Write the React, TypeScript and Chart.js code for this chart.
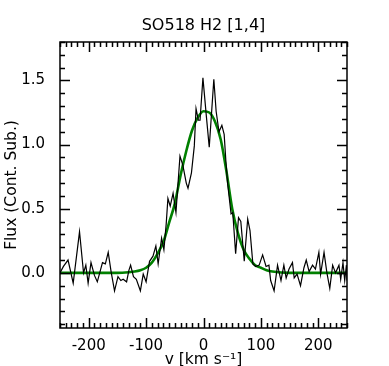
import React, { useEffect, useRef } from 'react';
import { Chart, registerables } from 'chart.js';

Chart.register(...registerables);

const TITLE = 'SO518 H2 [1,4]';
const X_LABEL = 'v [km s⁻¹]';
const Y_LABEL = 'Flux (Cont. Sub.)';

const specVel = [
  -250, -244, -236, -227, -216, -209, -205, -201, -196, -190,
  -185, -176, -171, -166, -161, -155, -149, -144, -140, -134,
  -130, -127, -122, -117, -110, -105, -100, -94, -88, -83,
  -79, -73, -69, -65, -62, -58, -53, -48, -41, -36,
  -30, -27, -21, -16, -13, -9, -6, -1, 5, 10,
  18, 22, 27, 32, 36, 39, 42, 48, 51, 56,
  61, 65, 71, 77, 81, 86, 91, 97, 103, 109,
  114, 117, 123, 129, 135, 140, 144, 149, 155, 158,
  163, 169, 175, 179, 184, 190, 195, 201, 204, 210,
  215, 220, 225, 230, 236, 239, 243, 246, 249, 250,
];
const specFlux = [
  0.0, 0.05, 0.1, -0.08, 0.32, 0.0, 0.06, -0.08, 0.08, -0.02,
  -0.07, 0.08, 0.07, 0.16, 0.01, -0.14, -0.03, -0.06, -0.05, -0.07,
  0.02, 0.06, -0.03, -0.05, -0.14, -0.01, -0.07, 0.09, 0.13, 0.21,
  0.07, 0.27, 0.18, 0.38, 0.58, 0.52, 0.62, 0.47, 0.91, 0.84,
  0.7, 0.66, 0.78, 0.99, 1.28, 1.19, 1.19, 1.52, 1.22, 0.98,
  1.51, 1.26, 1.1, 1.15, 1.08, 0.87, 0.7, 0.46, 0.47, 0.15,
  0.43, 0.4, 0.09, 0.42, 0.33, 0.07, 0.05, 0.06, 0.14, 0.05,
  0.06, -0.06, -0.14, 0.06, -0.06, 0.06, -0.04, 0.03, 0.08, -0.04,
  -0.01, -0.1, 0.04, 0.1, 0.01, 0.06, 0.03, 0.16, -0.01, 0.16,
  0.0, -0.12, 0.06, 0.0, 0.06, -0.05, 0.08, -0.06, 0.06, -0.06,
];

const fitVel = [
  -250, -200, -150, -130, -120, -110, -100, -90, -80, -70, -60, -50, -40, -30, -20, -10,
  0, 10, 20, 30, 40, 50, 60, 70, 80, 90, 100, 110, 120, 150, 200, 250,
];
const fitFlux = [
  0, 0, 0, 0.005, 0.01, 0.02, 0.04, 0.08, 0.15, 0.24, 0.39, 0.54, 0.76, 0.95, 1.11, 1.21,
  1.26, 1.25, 1.18, 1.04, 0.79, 0.5, 0.31, 0.18, 0.11, 0.06, 0.04, 0.02, 0.01, 0, 0, 0,
];

const xTicks = [-200, -100, 0, 100, 200];
const yTicks = [0, 0.5, 1.0, 1.5];
const X_MIN = -250;
const X_MAX = 250;
const Y_MIN = -0.43;
const Y_MAX = 1.8;
const X_MINOR_STEP = 10;
const Y_MINOR_STEP = 0.1;

const FONT = 'DejaVu Sans';

const frameTicks = {
  id: 'frameTicks',
  afterDatasetsDraw(chart: any) {
    const { ctx, chartArea: a, scales } = chart;
    const xs = scales.x;
    const ys = scales.y;
    ctx.save();
    ctx.strokeStyle = '#000';
    ctx.lineWidth = 1.5;
    ctx.beginPath();
    const nx = Math.round((X_MAX - X_MIN) / X_MINOR_STEP);
    for (let i = 0; i <= nx; i++) {
      const v = X_MIN + i * X_MINOR_STEP;
      const major = Math.abs(v % 100) < 1e-6;
      const len = major ? 10 : 5;
      const px = Math.round(xs.getPixelForValue(v)) + 0.5;
      ctx.moveTo(px, a.bottom);
      ctx.lineTo(px, a.bottom - len);
      ctx.moveTo(px, a.top);
      ctx.lineTo(px, a.top + len);
    }
    const kmin = Math.ceil(Y_MIN / Y_MINOR_STEP - 1e-6);
    const kmax = Math.floor(Y_MAX / Y_MINOR_STEP + 1e-6);
    for (let k = kmin; k <= kmax; k++) {
      const v = k * Y_MINOR_STEP;
      const major = k % 5 === 0;
      const len = major ? 10 : 5;
      const py = Math.round(ys.getPixelForValue(v)) + 0.5;
      ctx.moveTo(a.left, py);
      ctx.lineTo(a.left + len, py);
      ctx.moveTo(a.right, py);
      ctx.lineTo(a.right - len, py);
    }
    ctx.stroke();
    ctx.strokeRect(a.left, a.top, a.right - a.left, a.bottom - a.top);
    ctx.restore();
  },
};

export default function App() {
  const canvasRef = useRef<HTMLCanvasElement | null>(null);

  useEffect(() => {
    if (!canvasRef.current) return;
    const chart = new Chart(canvasRef.current, {
      type: 'line',
      data: {
        datasets: [
          {
            data: specVel.map((x, i) => ({ x, y: specFlux[i] })),
            borderColor: '#000000',
            borderWidth: 1.2,
            pointRadius: 0,
            tension: 0,
            fill: false,
          },
          {
            data: fitVel.map((x, i) => ({ x, y: fitFlux[i] })),
            borderColor: '#008000',
            borderWidth: 2.6,
            pointRadius: 0,
            cubicInterpolationMode: 'monotone',
            fill: false,
          },
        ],
      },
      options: {
        responsive: false,
        animation: false,
        layout: { padding: { left: 0, right: 42, top: 0, bottom: 0 } },
        plugins: {
          legend: { display: false },
          tooltip: { enabled: false },
          title: {
            display: true,
            text: TITLE,
            fullSize: false,
            color: '#000',
            font: { family: FONT, size: 16, weight: 'normal' },
            padding: { top: 16, bottom: 6.8 },
          },
        },
        scales: {
          x: {
            type: 'linear',
            min: X_MIN,
            max: X_MAX,
            grid: { display: false },
            border: { display: false },
            afterBuildTicks: (s: any) => {
              s.ticks = xTicks.map((value) => ({ value }));
            },
            afterFit: (s: any) => {
              s.height = 38;
            },
            ticks: {
              color: '#000',
              font: { family: FONT, size: 15 },
              padding: 1.5,
              maxRotation: 0,
              autoSkip: false,
              callback: (v: any) => String(v),
            },
            title: {
              display: true,
              text: X_LABEL,
              color: '#000',
              font: { family: FONT, size: 15.5 },
              padding: { top: 0, bottom: -3.5 },
            },
          },
          y: {
            type: 'linear',
            min: Y_MIN,
            max: Y_MAX,
            grid: { display: false },
            border: { display: false },
            afterBuildTicks: (s: any) => {
              s.ticks = yTicks.map((value) => ({ value }));
            },
            afterFit: (s: any) => {
              s.width = 60;
            },
            ticks: {
              color: '#000',
              font: { family: FONT, size: 15 },
              padding: 7,
              callback: (v: any) => Number(v).toFixed(1),
            },
            title: {
              display: true,
              text: Y_LABEL,
              color: '#000',
              font: { family: FONT, size: 15.5 },
              padding: { top: 3, bottom: 0 },
            },
          },
        },
      },
      plugins: [frameTicks],
    } as any);
    return () => chart.destroy();
  }, []);

  return (
    <div style={{ position: 'fixed', left: 0, top: 0, width: 389, height: 366, background: '#fff' }}>
      <canvas ref={canvasRef} width={389} height={366} style={{ display: 'block' }} />
    </div>
  );
}
